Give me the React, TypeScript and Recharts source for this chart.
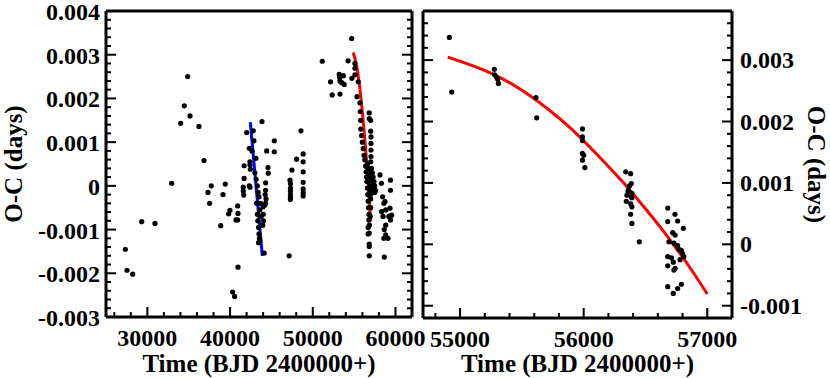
import { ComposedChart, Line, Scatter, XAxis, YAxis } from "recharts";

const FONT = '"Liberation Serif", "Times New Roman", serif';

// O-C timings, [BJD - 2400000, O-C days]
const earlyTimings: [number, number][] = [
  [27340, -0.00145], [27540, -0.00193], [28230, -0.00202], [29320, -0.00082],
  [30920, -0.00086], [32940, 0.00006], [34030, 0.00143], [34470, 0.00183],
  [34880, 0.0025], [35160, 0.0016], [36240, 0.00136], [36850, 0.00058],
  [37330, -0.00015], [37530, -0.0004], [37730, 0.0], [38870, -0.00091],
  [39150, -0.0002], [39420, 0.00004], [39830, -0.00064], [39990, -0.00056],
  [40310, -0.00243], [40560, -0.00253], [40720, -0.00078], [40920, -0.00078],
  [40920, -0.00046], [40960, -0.00063], [40960, -0.00186],
];

const midTimings: [number, number][] = [
  [41600, -0.00003], [41600, -0.00012], [41650, -0.00021], [41700, 0.00046],
  [41700, 0.00017], [42010, 0.00122], [42320, 0.00086], [42330, 0.0],
  [42400, 0.00055], [42410, 0.00048], [42450, 0.00038], [42410, -0.00003],
  [42650, 0.0008], [42810, 0.00126], [42890, 0.00103], [43130, 0.00063],
  [43000, 0.0003], [43150, 0.00015], [43300, 0.0], [43400, -0.00015],
  [43500, -0.00025], [43200, -0.0004], [43300, -0.00065], [43350, -0.0008],
  [43450, -0.00095], [43500, -0.0011], [43550, -0.0012], [43450, -0.0013],
  [43600, -0.00125], [43600, -0.00055], [43750, -0.0007], [43700, -0.0004],
  [43860, 0.00147], [44000, -0.00048], [44000, -0.00065], [44050, -0.0008],
  [43950, -0.0009], [44130, -0.00154], [44300, 0.00007], [44300, -0.0001],
  [44250, -0.0002], [44350, -0.0003], [44300, -0.0004], [44200, -0.00044],
  [44430, 0.0008], [44590, 0.00042], [44620, 0.00029], [45350, 0.00103],
  [45350, 0.00078], [47140, -0.0016], [47250, 0.00013], [47300, 0.00005],
  [47300, -0.00005], [47300, -0.00012], [47300, -0.0002], [47300, -0.00027],
  [47300, -0.00031], [47480, 0.00036], [48040, 0.00061], [48570, 0.00126],
  [48840, 0.00073], [48840, 0.00055], [48840, 0.00032], [48840, 0.00008],
  [48840, -0.00007], [48840, -0.00015], [48840, -0.00023],
];

const recentTimings: [number, number][] = [
  [51150, 0.00285], [52150, 0.00238], [52350, 0.00208], [53200, 0.00255],
  [53250, 0.00248], [53300, 0.0024], [53290, 0.0021], [53500, 0.00236],
  [53700, 0.00252], [53800, 0.00232], [54280, 0.00286], [54710, 0.00337],
  [54730, 0.00246], [55100, 0.0028], [55100, 0.00269], [55100, 0.00254],
  [55350, 0.00204], [55500, 0.00238], [55700, 0.0019], [55750, 0.0017],
  [55800, 0.0015], [55800, 0.0013], [55900, 0.00115], [56000, 0.001],
  [56100, 0.00085], [56200, 0.0007], [56830, 0.00167], [56830, 0.00154],
  [57000, 0.0015], [57000, 0.00125], [57040, 0.00112], [57040, 0.00097],
  [57040, 0.00082], [57040, 0.00067], [56300, 0.0006], [56400, 0.00045],
  [56450, 0.00032], [56500, 0.0002], [56550, 0.0001], [56600, -0.00005],
  [56650, -0.0002], [56700, -0.00035], [56750, -0.0005], [56800, -0.00065],
  [56800, -0.00078], [56600, 0.0005], [56700, 0.0004], [56800, 0.0003],
  [56900, 0.0002], [56900, 0.00005], [56900, -0.0001], [57000, 0.00055],
  [57000, 0.00035], [57000, -0.0002], [57100, 0.0004], [57100, 0.00025],
  [57100, 0.0001], [57100, -0.00005], [57200, 0.0003], [57200, 0.00015],
  [57200, 0.0], [57300, 0.0002], [57300, 0.00005], [57300, -0.0001],
  [57400, 0.0001], [57400, -0.00005], [57500, 0.0], [57500, -0.00015],
  [57600, -0.0001], [56830, -0.00108], [56830, -0.00133], [56830, -0.00139],
  [56830, -0.0016], [56700, -0.00095], [56700, -0.0011], [57000, -0.0003],
  [57000, -0.0005], [56950, -0.0007], [56850, -0.0009],
];

const latestTimings: [number, number][] = [
  [58130, 0.00025], [58300, 0.00006], [58450, -0.00025], [58330, -0.00059],
  [58600, -0.0004], [58740, -0.00036], [58820, -0.00055], [59340, -0.00051],
  [59540, -0.00067], [59400, -0.00078], [58820, -0.0009], [58650, -0.001],
  [58820, -0.00112], [58600, -0.0012], [59100, -0.0012], [59400, 0.00013],
  [59400, -0.0001], [58650, -0.00163], [58500, -0.0007], [59200, -0.0007],
];

// zoomed panel: recent timings
const zoomTimings: [number, number][] = [
  [54913, 0.00337], [54932, 0.00248], [55277, 0.00285], [55280, 0.00276],
  [55295, 0.00272], [55305, 0.00269], [55310, 0.00262], [55614, 0.00239],
  [55620, 0.00206], [55990, 0.00188], [55990, 0.00175], [55990, 0.00169],
  [55990, 0.00148], [56000, 0.00145], [55990, 0.00137], [56010, 0.00125],
  [56340, 0.00118], [56380, 0.00115], [56385, 0.00099], [56360, 0.00088],
  [56390, 0.00083], [56385, 0.00078], [56370, 0.00095], [56360, 0.00086],
  [56350, 0.0008], [56390, 0.00076], [56345, 0.0007], [56380, 0.00066],
  [56390, 0.00061], [56380, 0.00049], [56390, 0.00034], [56450, 0.00004],
  [56680, 0.00059], [56739, 0.00049], [56680, 0.00037], [56760, 0.00038],
  [56806, 0.00026], [56720, 0.00019], [56740, 0.00015], [56690, 0.00004],
  [56730, 0.00002], [56760, -0.00002], [56770, -0.00008], [56790, -0.0001],
  [56800, -0.00015], [56810, -0.0002], [56780, -0.00025], [56680, -0.0002],
  [56710, -0.00022], [56725, -0.00029], [56680, -0.00035], [56740, -0.00039],
  [56730, -0.00042], [56680, -0.00069], [56760, -0.00072], [56790, -0.00065],
  [56725, -0.0008],
];

const linearFitTime = [42450, 43900];
const linearFitOC = [0.00146, -0.0016];

const quadFitTime = [54900, 55100, 55300, 55500, 55700, 55900, 56100, 56300, 56500, 56700, 56900, 57000];
const quadFitOC = [0.00305, 0.00291, 0.00274, 0.00251, 0.00222, 0.00188, 0.00148, 0.00105, 0.00058, 0.00007, -0.0005, -0.00081];

const leftXMajor = [30000, 40000, 50000, 60000];
const leftYMajor = [-0.003, -0.002, -0.001, 0, 0.001, 0.002, 0.003, 0.004];
const rightXMajor = [55000, 56000, 57000];
const rightYMajor = [-0.001, 0, 0.001, 0.002, 0.003];

const steps = (lo: number, hi: number, step: number) =>
  Array.from({ length: Math.round((hi - lo) / step) + 1 }, (_, i) => +(lo + i * step).toFixed(6));

const leftXTicks = steps(26000, 62000, 2000);
const leftYTicks = steps(-0.003, 0.004, 0.0002);
const rightXTicks = steps(54800, 57200, 200);
const rightYTicks = steps(-0.0012, 0.0038, 0.0002);

const toPts = (rows: [number, number][]) => rows.map(([x, y]) => ({ x, y }));
const zip = (xs: number[], ys: number[]) => xs.map((x, i) => ({ x, y: ys[i] }));

const leftPoints = toPts([...earlyTimings, ...midTimings, ...recentTimings, ...latestTimings]);
const rightPoints = toPts(zoomTimings);
const blueFit = zip(linearFitTime, linearFitOC);
const redFit = zip(quadFitTime, quadFitOC);

const fmtOC = (v: number) => (Math.abs(v) < 1e-9 ? "0" : v.toFixed(3));

const textStyle = { fontFamily: FONT, fontWeight: "bold" as const, fontSize: 24, fill: "#000" };
const titleStyle = { fontFamily: FONT, fontWeight: "bold" as const, fontSize: 25, fill: "#000", textAnchor: "middle" as const };
const frameLine = { stroke: "#000", strokeWidth: 3 };

function FrameTick(props: any) {
  const { x, y, payload, side, majors, showLabel } = props;
  const v = payload.value as number;
  const isMajor = majors.some((m: number) => Math.abs(m - v) < 1e-6 * Math.max(1, Math.abs(m)));
  const len = isMajor ? 10 : 5;
  const dx = side === "left" ? len : side === "right" ? -len : 0;
  const dy = side === "bottom" ? -len : side === "top" ? len : 0;
  let label = null;
  if (isMajor && showLabel) {
    if (side === "bottom") {
      label = (
        <text x={x} y={y + 29} textAnchor="middle" style={textStyle}>
          {String(v)}
        </text>
      );
    } else if (side === "left") {
      label = (
        <text x={x - 6} y={y + 9} textAnchor="end" style={textStyle}>
          {fmtOC(v)}
        </text>
      );
    } else if (side === "right") {
      label = (
        <text x={x + 8} y={y + 8} textAnchor="start" style={textStyle}>
          {fmtOC(v)}
        </text>
      );
    }
  }
  return (
    <g>
      <line x1={x} y1={y} x2={x + dx} y2={y + dy} stroke="#000" strokeWidth={2} />
      {label}
    </g>
  );
}

const dot = (p: any) => <circle cx={p.cx} cy={p.cy} r={2.6} fill="#000" />;

const axisCommon = {
  type: "number" as const,
  allowDataOverflow: true,
  interval: 0 as const,
  tickSize: 0,
  tickMargin: 0,
  tickLine: false,
  axisLine: frameLine,
};

export default function App() {
  return (
    <div style={{ position: "absolute", left: 0, top: 0, width: 830, height: 378, background: "#fff" }}>
      <div style={{ position: "absolute", left: 0, top: 0 }}>
        <ComposedChart width={430} height={378} margin={{ top: 0, right: 0, bottom: 0, left: 0 }}>
          <XAxis
            {...axisCommon}
            xAxisId="b"
            dataKey="x"
            domain={[25000, 62000]}
            ticks={leftXTicks}
            height={61}
            tick={<FrameTick side="bottom" majors={leftXMajor} showLabel />}
            label={{ value: "Time (BJD 2400000+)", position: "insideBottom", offset: 6, style: titleStyle }}
          />
          <XAxis
            {...axisCommon}
            xAxisId="t"
            orientation="top"
            domain={[25000, 62000]}
            ticks={leftXTicks}
            height={11}
            tick={<FrameTick side="top" majors={leftXMajor} />}
          />
          <YAxis
            {...axisCommon}
            yAxisId="l"
            dataKey="y"
            domain={[-0.003, 0.004]}
            ticks={leftYTicks}
            width={106}
            tick={<FrameTick side="left" majors={leftYMajor} showLabel />}
            label={{ value: "O-C (days)", angle: -90, position: "insideLeft", offset: 13, style: titleStyle }}
          />
          <YAxis
            {...axisCommon}
            yAxisId="r"
            orientation="right"
            domain={[-0.003, 0.004]}
            ticks={leftYTicks}
            width={18}
            tick={<FrameTick side="right" majors={leftYMajor} />}
          />
          <Scatter xAxisId="b" yAxisId="l" data={leftPoints} shape={dot} isAnimationActive={false} />
          <Line xAxisId="b" yAxisId="l" data={blueFit} dataKey="y" stroke="#0000ff" strokeWidth={3} dot={false} isAnimationActive={false} />
          <Line xAxisId="b" yAxisId="l" data={redFit} dataKey="y" type="monotone" stroke="#ff0000" strokeWidth={3} dot={false} isAnimationActive={false} />
        </ComposedChart>
      </div>
      <div style={{ position: "absolute", left: 400, top: 0 }}>
        <ComposedChart width={430} height={378} margin={{ top: 0, right: 0, bottom: 0, left: 0 }}>
          <XAxis
            {...axisCommon}
            xAxisId="b"
            dataKey="x"
            domain={[54700, 57200]}
            ticks={rightXTicks}
            height={60}
            tick={<FrameTick side="bottom" majors={rightXMajor} showLabel />}
            label={{ value: "Time (BJD 2400000+)", position: "insideBottom", offset: 6, style: titleStyle }}
          />
          <XAxis
            {...axisCommon}
            xAxisId="t"
            orientation="top"
            domain={[54700, 57200]}
            ticks={rightXTicks}
            height={11}
            tick={<FrameTick side="top" majors={rightXMajor} />}
          />
          <YAxis
            {...axisCommon}
            yAxisId="l"
            dataKey="y"
            domain={[-0.0012, 0.0038]}
            ticks={rightYTicks}
            width={23}
            tick={<FrameTick side="left" majors={rightYMajor} />}
          />
          <YAxis
            {...axisCommon}
            yAxisId="r"
            orientation="right"
            domain={[-0.0012, 0.0038]}
            ticks={rightYTicks}
            width={98}
            tick={<FrameTick side="right" majors={rightYMajor} showLabel />}
            label={{ value: "O-C (days)", angle: 90, position: "insideRight", offset: 13, style: titleStyle }}
          />
          <Scatter xAxisId="b" yAxisId="l" data={rightPoints} shape={dot} isAnimationActive={false} />
          <Line xAxisId="b" yAxisId="l" data={redFit} dataKey="y" type="monotone" stroke="#ff0000" strokeWidth={3} dot={false} isAnimationActive={false} />
        </ComposedChart>
      </div>
    </div>
  );
}
